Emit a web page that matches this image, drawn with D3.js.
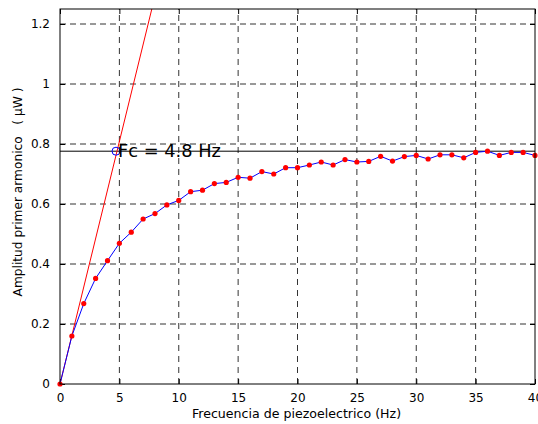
<!DOCTYPE html>
<html>
<head>
<meta charset="utf-8">
<script src="https://cdn.jsdelivr.net/npm/d3@7"></script>
<style>
  body { margin: 0; background: #fff; }
  svg { display: block; font-family: "DejaVu Sans", sans-serif; }
</style>
</head>
<body>
<div id="chart"></div>
<script>
const width = 538;
const height = 424;

// frequency (Hz) and first-harmonic amplitude (uW)
const freq = d3.range(0, 41);
const amplitude = [
  0, 0.160, 0.268, 0.352, 0.411, 0.469, 0.506, 0.550, 0.568, 0.597,
  0.612, 0.641, 0.646, 0.668, 0.672, 0.689, 0.686, 0.708, 0.700, 0.721,
  0.721, 0.730, 0.740, 0.730, 0.748, 0.740, 0.742, 0.759, 0.743, 0.758,
  0.762, 0.750, 0.764, 0.764, 0.754, 0.772, 0.776, 0.762, 0.772, 0.772,
  0.762
];
const xTicks = [0, 5, 10, 15, 20, 25, 30, 35, 40];
const yTicks = [0, 0.2, 0.4, 0.6, 0.8, 1, 1.2];

// cutoff: horizontal level and intersection with the initial slope line
const fc = 4.8;
const level = 0.776;
const slopeLine = [[0, 0], [10, level / fc * 10]];

const margin = { top: 9, right: 3, bottom: 40, left: 60 };

const x = d3.scaleLinear().domain([0, 40]).range([margin.left, width - margin.right]);
const y = d3.scaleLinear().domain([0, 1.25]).range([height - margin.bottom, margin.top]);

const svg = d3.select("#chart")
    .append("svg")
    .attr("width", width)
    .attr("height", height);

svg.append("defs").append("clipPath")
    .attr("id", "clip")
    .append("rect")
    .attr("x", x(0)).attr("y", y(1.25))
    .attr("width", x(40) - x(0)).attr("height", y(0) - y(1.25));

// grid
const grid = svg.append("g");
grid.selectAll(".gx")
    .data(xTicks.slice(1, -1))
    .enter().append("line")
    .attr("x1", d => x(d)).attr("x2", d => x(d))
    .attr("y1", y(0)).attr("y2", y(1.25))
    .attr("stroke", "#333")
    .attr("stroke-dasharray", "6,5");
grid.selectAll(".gy")
    .data(yTicks.slice(1))
    .enter().append("line")
    .attr("x1", x(0)).attr("x2", x(40))
    .attr("y1", d => y(d)).attr("y2", d => y(d))
    .attr("stroke", "#333")
    .attr("stroke-dasharray", "6,4");

// axes (ticks inside, like matlab)
svg.append("g")
    .attr("transform", `translate(0,${y(0)})`)
    .call(d3.axisBottom(x).tickValues(xTicks).tickSizeInner(-5).tickSizeOuter(0).tickPadding(9))
    .call(g => g.select(".domain").remove());
svg.append("g")
    .attr("transform", `translate(0,${y(1.25)})`)
    .call(d3.axisTop(x).tickValues(xTicks).tickSizeInner(-5).tickSizeOuter(0).tickFormat(""))
    .call(g => g.select(".domain").remove());
svg.append("g")
    .attr("transform", `translate(${x(0)},0)`)
    .call(d3.axisLeft(y).tickValues(yTicks).tickSizeInner(-5).tickSizeOuter(0).tickPadding(10).tickFormat(d3.format("~g")))
    .call(g => g.select(".domain").remove());
svg.append("g")
    .attr("transform", `translate(${x(40)},0)`)
    .call(d3.axisRight(y).tickValues(yTicks).tickSizeInner(-5).tickSizeOuter(0).tickFormat(""))
    .call(g => g.select(".domain").remove());

svg.selectAll(".tick text")
    .style("font-family", "'DejaVu Sans', sans-serif")
    .style("font-size", "12px")
    .attr("fill", "#000");
svg.selectAll(".tick line").attr("stroke", "#000");

const plot = svg.append("g").attr("clip-path", "url(#clip)");

// horizontal cutoff level
plot.append("line")
    .attr("x1", x(0)).attr("x2", x(40))
    .attr("y1", y(level)).attr("y2", y(level))
    .attr("stroke", "#000")
    .attr("stroke-width", 1);

// initial slope
plot.append("path")
    .datum(slopeLine)
    .attr("d", d3.line().x(d => x(d[0])).y(d => y(d[1])))
    .attr("fill", "none")
    .attr("stroke", "#ff0000")
    .attr("stroke-width", 1);

// measured curve
const pts = freq.map((f, i) => [f, amplitude[i]]);
plot.append("path")
    .datum(pts)
    .attr("d", d3.line().x(d => x(d[0])).y(d => y(d[1])))
    .attr("fill", "none")
    .attr("stroke", "#0000ff")
    .attr("stroke-width", 1);

svg.append("g")
    .selectAll("circle")
    .data(pts)
    .enter().append("circle")
    .attr("cx", d => x(d[0]))
    .attr("cy", d => y(d[1]))
    .attr("r", 2.6)
    .attr("fill", "#ff0000");

// cutoff marker
svg.append("circle")
    .attr("cx", x(fc) - 1)
    .attr("cy", y(level))
    .attr("r", 4)
    .attr("fill", "none")
    .attr("stroke", "#0000ff");

svg.append("text")
    .attr("x", x(fc) + 1)
    .attr("y", y(level) + 6)
    .style("font-size", "17.8px")
    .text("Fc = 4.8 Hz");

// box
svg.append("rect")
    .attr("x", x(0)).attr("y", y(1.25))
    .attr("width", x(40) - x(0)).attr("height", y(0) - y(1.25))
    .attr("fill", "none")
    .attr("stroke", "#000");

// labels
svg.append("text")
    .attr("x", (x(0) + x(40)) / 2 - 1)
    .attr("y", 418)
    .attr("text-anchor", "middle")
    .style("font-size", "12.6px")
    .text("Frecuencia de piezoelectrico (Hz)");

svg.append("text")
    .attr("transform", "translate(22,192) rotate(-90)")
    .attr("text-anchor", "middle")
    .style("font-size", "12.2px")
    .style("white-space", "pre")
    .text("Amplitud primer armonico   ( \u00b5W )");
</script>
</body>
</html>
